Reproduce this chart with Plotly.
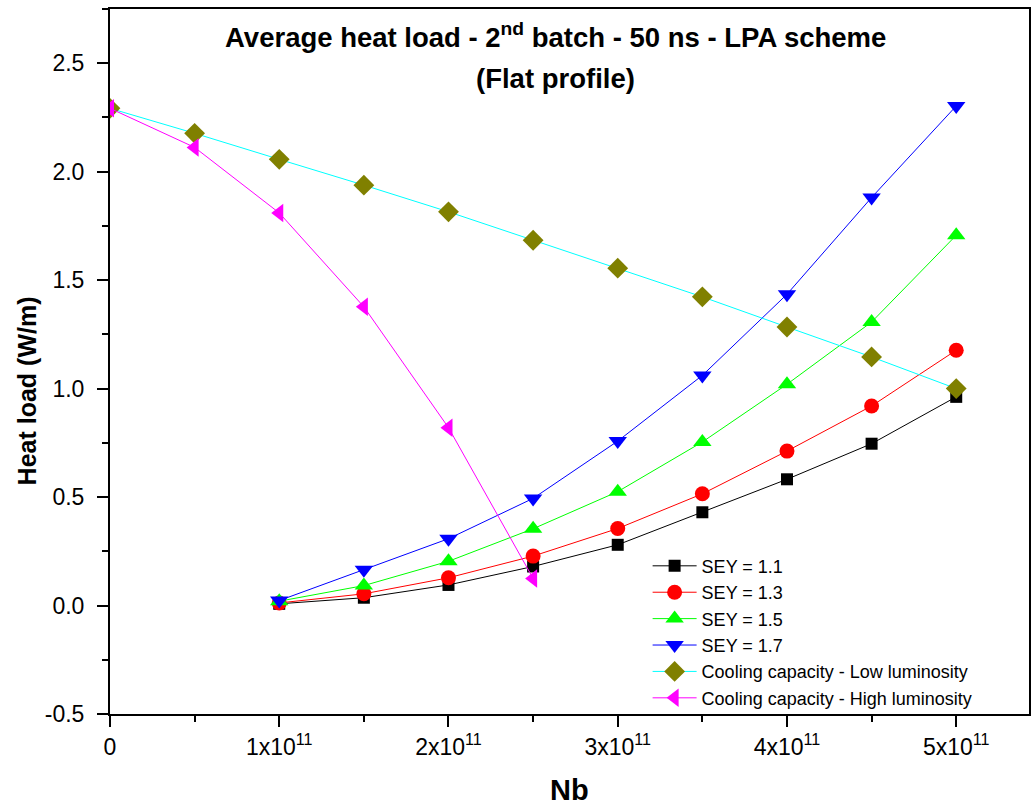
import plotly.graph_objects as go

nb = [1e11, 1.5e11, 2e11, 2.5e11, 3e11, 3.5e11, 4e11, 4.5e11, 5e11]
sey_11 = [0.008, 0.036, 0.095, 0.18, 0.28, 0.43, 0.582, 0.746, 0.962]
sey_13 = [0.012, 0.054, 0.128, 0.228, 0.355, 0.515, 0.712, 0.92, 1.177]
sey_15 = [0.02, 0.092, 0.204, 0.354, 0.525, 0.754, 1.02, 1.307, 1.707]
sey_17 = [0.023, 0.165, 0.308, 0.494, 0.758, 1.061, 1.435, 1.881, 2.303]

nb_cool_low = [0, 0.5e11, 1e11, 1.5e11, 2e11, 2.5e11, 3e11, 3.5e11, 4e11, 4.5e11, 5e11]
cool_low = [2.292, 2.177, 2.057, 1.938, 1.815, 1.684, 1.555, 1.423, 1.284, 1.146, 1.0]

nb_cool_high = [0, 0.5e11, 1e11, 1.5e11, 2e11, 2.5e11]
cool_high = [2.292, 2.112, 1.81, 1.377, 0.82, 0.125]

x_tickvals = [0, 1e11, 2e11, 3e11, 4e11, 5e11]
x_ticktext = ["0", "1x10<sup>11</sup>", "2x10<sup>11</sup>", "3x10<sup>11</sup>",
              "4x10<sup>11</sup>", "5x10<sup>11</sup>"]
y_tickvals = [-0.5, 0.0, 0.5, 1.0, 1.5, 2.0, 2.5]
y_ticktext = ["-0.5", "0.0", "0.5", "1.0", "1.5", "2.0", "2.5"]

FONT = "Liberation Sans"

series = [
    ("SEY = 1.1", nb, sey_11, "black", "black", "square", 12),
    ("SEY = 1.3", nb, sey_13, "red", "red", "circle", 15),
    ("SEY = 1.5", nb, sey_15, "#00ff00", "#00ff00", "triangle-up", 16),
    ("SEY = 1.7", nb, sey_17, "blue", "blue", "triangle-down", 16),
    ("Cooling capacity - Low luminosity", nb_cool_low, cool_low, "cyan", "#808000", "diamond", 16),
    ("Cooling capacity - High luminosity", nb_cool_high, cool_high, "magenta", "magenta", "triangle-left", 16),
]

fig = go.Figure()
for name, xs, ys, lc, mc, sym, sz in series:
    fig.add_trace(go.Scatter(
        x=xs, y=ys, name=name, mode="lines+markers",
        line=dict(color=lc, width=1),
        marker=dict(color=mc, symbol=sym, size=sz, line=dict(width=0)),
    ))

fig.update_layout(
    width=1031, height=808,
    margin=dict(l=110, r=0, t=9, b=94),
    paper_bgcolor="white", plot_bgcolor="white",
    font=dict(family=FONT, color="black"),
    showlegend=True,
    legend=dict(
        x=0.585, y=0.236, xanchor="left", yanchor="top",
        bgcolor="rgba(0,0,0,0)", borderwidth=0,
        font=dict(size=18, family=FONT), tracegroupgap=0,
        itemwidth=44,
    ),
)

fig.update_xaxes(
    range=[0, 5.43e11], showgrid=False, zeroline=False,
    showline=True, linecolor="black", linewidth=2, mirror=True,
    tickmode="array", tickvals=x_tickvals, ticktext=x_ticktext,
    ticks="outside", ticklen=11, tickwidth=2, tickcolor="black",
    tickfont=dict(size=23, family=FONT),
    minor=dict(ticks="outside", ticklen=6, tickwidth=2, tickcolor="black", dtick=5e10, tick0=0),
)
fig.update_yaxes(
    range=[-0.5, 2.75], showgrid=False, zeroline=False,
    showline=True, linecolor="black", linewidth=2, mirror=True,
    tickmode="array", tickvals=y_tickvals, ticktext=y_ticktext,
    ticks="outside", ticklen=11, tickwidth=2, tickcolor="black",
    tickfont=dict(size=23, family=FONT), ticklabelstandoff=8,
    minor=dict(ticks="outside", ticklen=6, tickwidth=2, tickcolor="black", dtick=0.25, tick0=0),
)

fig.add_annotation(
    text="<b>Average heat load - 2<sup>nd</sup> batch - 50 ns - LPA scheme</b>",
    xref="paper", yref="paper", x=0.485, y=0.962, xanchor="center", yanchor="middle",
    showarrow=False, font=dict(size=27.5, family=FONT),
)
fig.add_annotation(
    text="<b>(Flat profile)</b>",
    xref="paper", yref="paper", x=0.485, y=0.902, xanchor="center", yanchor="middle",
    showarrow=False, font=dict(size=27.5, family=FONT),
)
fig.add_annotation(
    text="<b>Heat load (W/m)</b>", textangle=-90,
    xref="paper", yref="paper", x=-0.090, y=0.458, xanchor="center", yanchor="middle",
    showarrow=False, font=dict(size=25, family=FONT),
)
fig.add_annotation(
    text="<b>Nb</b>",
    xref="paper", yref="paper", x=0.50, y=-0.1333, xanchor="center", yanchor="bottom",
    showarrow=False, font=dict(size=29, family=FONT),
)

fig.write_html("out.html")
